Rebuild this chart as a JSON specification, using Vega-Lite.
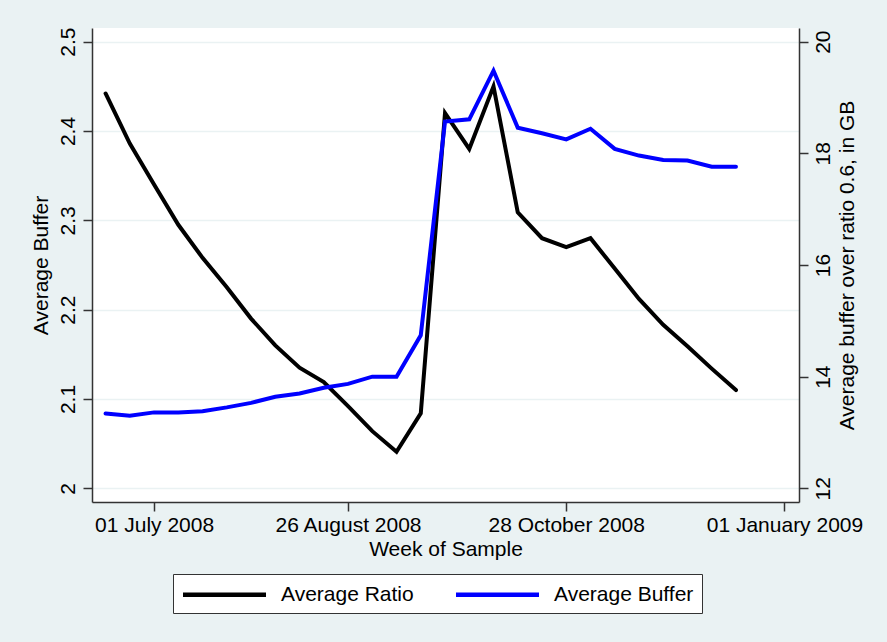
{
  "$schema": "https://vega.github.io/schema/vega-lite/v6.json",
  "width": 707,
  "height": 474,
  "autosize": {"type": "none"},
  "padding": {"left": 92, "top": 28, "right": 88, "bottom": 140},
  "background": "#EAF2F3",
  "config": {
    "view": {"fill": "white", "stroke": null},
    "font": "Liberation Sans",
    "axis": {
      "domainColor": "#333333",
      "domainWidth": 1.5,
      "tickColor": "#333333",
      "tickWidth": 1.5,
      "tickSize": 9,
      "labelColor": "black",
      "titleColor": "black",
      "labelFontSize": 21,
      "titleFontSize": 21,
      "titleFontWeight": "normal",
      "gridColor": "#EAF2F3",
      "gridWidth": 1.5
    },
    "legend": {"labelFontSize": 21, "labelColor": "black"}
  },
  "data": {
    "values": [
      {"week": 25, "ratio": 2.442, "buffer": 13.34},
      {"week": 26, "ratio": 2.386, "buffer": 13.30},
      {"week": 27, "ratio": 2.340, "buffer": 13.36},
      {"week": 28, "ratio": 2.295, "buffer": 13.36},
      {"week": 29, "ratio": 2.258, "buffer": 13.38},
      {"week": 30, "ratio": 2.225, "buffer": 13.45},
      {"week": 31, "ratio": 2.190, "buffer": 13.53},
      {"week": 32, "ratio": 2.160, "buffer": 13.64},
      {"week": 33, "ratio": 2.135, "buffer": 13.70},
      {"week": 34, "ratio": 2.119, "buffer": 13.80},
      {"week": 35, "ratio": 2.092, "buffer": 13.87},
      {"week": 36, "ratio": 2.064, "buffer": 14.00},
      {"week": 37, "ratio": 2.041, "buffer": 14.00},
      {"week": 38, "ratio": 2.084, "buffer": 14.74},
      {"week": 39, "ratio": 2.420, "buffer": 18.57},
      {"week": 40, "ratio": 2.380, "buffer": 18.61},
      {"week": 41, "ratio": 2.450, "buffer": 19.48},
      {"week": 42, "ratio": 2.309, "buffer": 18.46},
      {"week": 43, "ratio": 2.280, "buffer": 18.36},
      {"week": 44, "ratio": 2.270, "buffer": 18.25},
      {"week": 45, "ratio": 2.280, "buffer": 18.44},
      {"week": 46, "ratio": 2.246, "buffer": 18.08},
      {"week": 47, "ratio": 2.212, "buffer": 17.96},
      {"week": 48, "ratio": 2.183, "buffer": 17.88},
      {"week": 49, "ratio": 2.159, "buffer": 17.87},
      {"week": 50, "ratio": 2.134, "buffer": 17.76},
      {"week": 51, "ratio": 2.110, "buffer": 17.76}
    ]
  },
  "encoding": {
    "x": {
      "field": "week",
      "type": "quantitative",
      "scale": {"domain": [24.44, 53.6], "nice": false, "zero": false},
      "axis": {
        "title": "Week of Sample",
        "values": [27, 35, 44, 53],
        "labelExpr": "datum.value == 27 ? '01 July 2008' : datum.value == 35 ? '26 August 2008' : datum.value == 44 ? '28 October 2008' : '01 January 2009'",
        "grid": false,
        "labelPadding": 3,
        "titlePadding": 3,
        "labelFlush": false,
        "labelOverlap": false
      }
    }
  },
  "layer": [
    {
      "mark": {"type": "line", "strokeWidth": 4, "strokeCap": "round", "clip": true},
      "encoding": {
        "y": {
          "field": "ratio",
          "type": "quantitative",
          "scale": {"domain": [1.9847, 2.5153], "nice": false, "zero": false},
          "axis": {
            "title": "Average Buffer",
            "orient": "left",
            "values": [2, 2.1, 2.2, 2.3, 2.4, 2.5],
            "format": ".1~f",
            "labelAngle": 270,
            "labelAlign": "center",
            "labelBaseline": "bottom",
            "labelPadding": 5,
            "titlePadding": 6,
            "grid": true
          }
        },
        "color": {
          "datum": "Average Ratio",
          "type": "nominal",
          "scale": {"domain": ["Average Ratio", "Average Buffer"], "range": ["black", "#0000FF"]},
          "legend": {
            "title": null,
            "orient": "none",
            "legendX": 81,
            "legendY": 546,
            "direction": "horizontal",
            "symbolType": "M-4.15,0H4.15",
            "symbolSize": 400,
            "symbolStrokeWidth": 4.5,
            "symbolOffset": 31,
            "labelOffset": 44,
            "columnPadding": 33,
            "padding": 8,
            "fillColor": "white",
            "strokeColor": "#333333",
            "labelExpr": "datum.label == 'Average Buffer' ? datum.label + '\u00a0\u00a0\u00a0\u00a0' : datum.label"
          }
        }
      }
    },
    {
      "mark": {"type": "line", "strokeWidth": 4, "strokeCap": "round", "clip": true},
      "encoding": {
        "y": {
          "field": "buffer",
          "type": "quantitative",
          "scale": {"domain": [11.755, 20.245], "nice": false, "zero": false},
          "axis": {
            "title": "Average buffer over ratio 0.6, in GB",
            "orient": "right",
            "values": [12, 14, 16, 18, 20],
            "labelAngle": 270,
            "labelAlign": "center",
            "labelBaseline": "top",
            "labelPadding": 4,
            "titleAngle": 270,
            "titleBaseline": "top",
            "titlePadding": 3,
            "grid": false
          }
        },
        "color": {"datum": "Average Buffer", "type": "nominal"}
      }
    }
  ],
  "resolve": {"scale": {"y": "independent"}}
}
